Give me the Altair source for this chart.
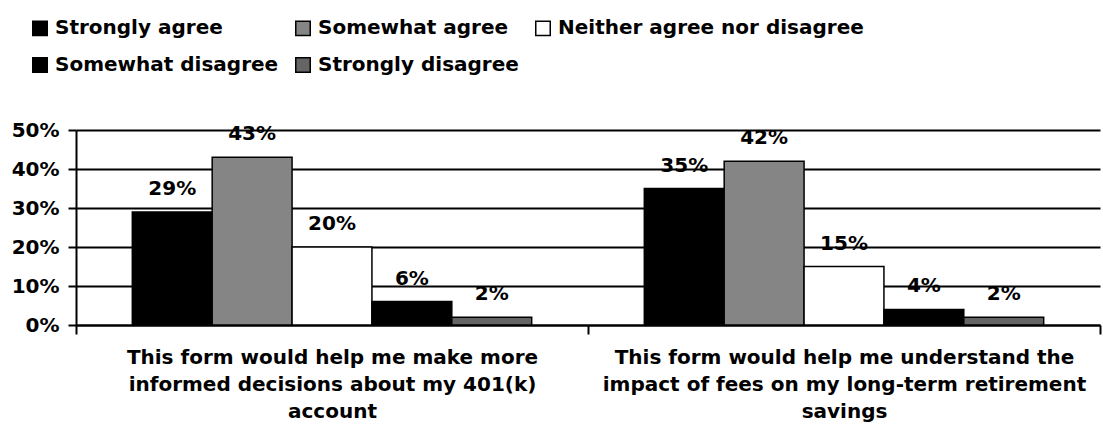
import altair as alt
import pandas as pd

categories = [
    "This form would help me make more|informed decisions about my 401(k)|account",
    "This form would help me understand the|impact of fees on my long-term retirement|savings",
]
responses = [
    "Strongly agree",
    "Somewhat agree",
    "Neither agree nor disagree",
    "Somewhat disagree",
    "Strongly disagree",
]
values_q1 = [0.29, 0.43, 0.20, 0.06, 0.02]
values_q2 = [0.35, 0.42, 0.15, 0.04, 0.02]
colors = ["#000000", "#858585", "#ffffff", "#000000", "#656565"]
y_ticks = [0.0, 0.1, 0.2, 0.3, 0.4, 0.5]

rows = []
for cat, vals in zip(categories, [values_q1, values_q2]):
    for r, v in zip(responses, vals):
        rows.append({"question": cat, "response": r, "value": v})
df = pd.DataFrame(rows)

FONT = "DejaVu Sans"
FS = 20

x = alt.X(
    "question:N",
    sort=categories,
    scale=alt.Scale(paddingInner=0, paddingOuter=0),
    axis=alt.Axis(
        title=None,
        labelAngle=0,
        labelExpr="split(datum.label, '|')",
        labelFont=FONT,
        labelFontSize=FS,
        labelFontWeight="bold",
        labelColor="black",
        labelLineHeight=27,
        labelPadding=13,
        labelLimit=700,
        labelOverlap=False,
        tickBand="extent",
        tickSize=9,
        tickColor="black",
        tickWidth=2,
        domainColor="black",
        domainWidth=2,
    ),
)
xo = alt.XOffset(
    "response:N", sort=responses, scale=alt.Scale(paddingInner=0, paddingOuter=0.705)
)
y = alt.Y(
    "value:Q",
    scale=alt.Scale(domain=[0, 0.5], nice=False),
    axis=alt.Axis(
        title=None,
        values=y_ticks,
        format=".0%",
        labelOverlap=False,
        grid=True,
        gridColor="black",
        gridWidth=2,
        gridOpacity=1,
        tickSize=8,
        tickColor="black",
        tickWidth=2,
        domainColor="black",
        domainWidth=2,
        labelFont=FONT,
        labelFontSize=FS,
        labelFontWeight="bold",
        labelColor="black",
        labelPadding=9,
    ),
)

bars = alt.Chart(df).mark_bar(stroke="black", strokeWidth=1.5).encode(
    x=x,
    xOffset=xo,
    y=y,
    color=alt.Color(
        "response:N",
        sort=responses,
        scale=alt.Scale(domain=responses, range=colors),
        legend=alt.Legend(
            title=None,
            orient="none",
            legendX=-46,
            legendY=-112,
            columns=3,
            direction="horizontal",
            symbolType="square",
            symbolSize=210,
            symbolStrokeColor="black",
            symbolStrokeWidth=1.5,
            labelFont=FONT,
            labelFontSize=FS,
            labelFontWeight="bold",
            labelColor="black",
            labelLimit=500,
            labelOffset=5,
            columnPadding=13,
            rowPadding=15,
        ),
    ),
)

labels = alt.Chart(df).mark_text(
    dy=-17, baseline="alphabetic", font=FONT, fontSize=FS, fontWeight="bold", color="black"
).encode(
    x=x,
    xOffset=xo,
    y=y,
    text=alt.Text("value:Q", format=".0%"),
)

chart = (
    alt.layer(bars, labels)
    .properties(
        width=1024,
        height=195,
        padding={"left": 76, "top": 130, "right": 3, "bottom": 111},
        autosize="none",
        background="white",
    )
    .configure_view(stroke=None)
)

chart.save("out.html", embed_options={"renderer": "svg", "actions": False})
